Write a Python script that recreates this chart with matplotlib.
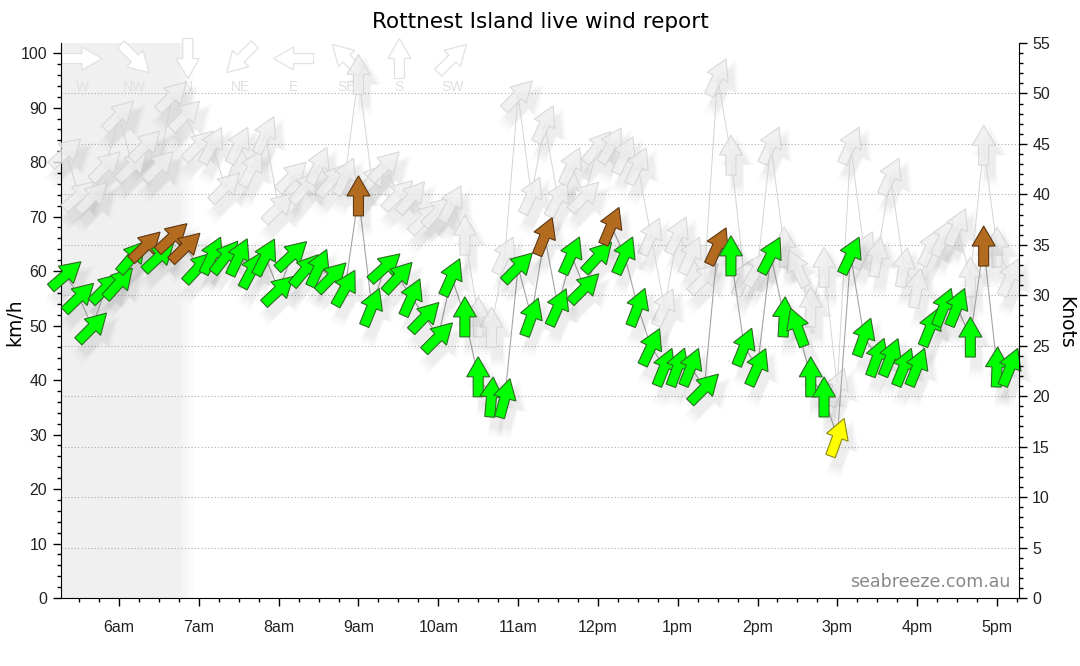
import numpy as np
import matplotlib
matplotlib.use('Agg')
import matplotlib.pyplot as plt
from matplotlib.patches import Polygon
from matplotlib.transforms import Affine2D, ScaledTranslation
from matplotlib.ticker import MultipleLocator, FixedLocator

KMH_PER_KNOT = 1.852

# ---------- data (10 minute readings) ----------
times = ["05:20", "05:30", "05:40", "05:50",
         "06:00", "06:10", "06:20", "06:30", "06:40", "06:50",
         "07:00", "07:10", "07:20", "07:30", "07:40", "07:50",
         "08:00", "08:10", "08:20", "08:30", "08:40", "08:50",
         "09:00", "09:10", "09:20", "09:30", "09:40", "09:50",
         "10:00", "10:10", "10:20", "10:30", "10:40", "10:50",
         "11:00", "11:10", "11:20", "11:30", "11:40", "11:50",
         "12:00", "12:10", "12:20", "12:30", "12:40", "12:50",
         "13:00", "13:10", "13:20", "13:30", "13:40", "13:50",
         "14:00", "14:10", "14:20", "14:30", "14:40", "14:50",
         "15:00", "15:10", "15:20", "15:30", "15:40", "15:50",
         "16:00", "16:10", "16:20", "16:30", "16:40", "16:50",
         "17:00", "17:10"]

# average wind, km/h
avg_kmh = [59.3, 55.2, 49.7, 56.9,
           57.8, 62.6, 64.6, 62.6, 66.2, 64.4,
           60.7, 62.9, 62.6, 62.6, 60.2, 62.6,
           56.5, 62.9, 60.2, 60.6, 58.9, 56.9,
           73.8, 53.4, 60.7, 58.9, 55.2, 51.6,
           47.9, 58.9, 51.6, 40.6, 36.9, 36.7,
           60.7, 51.6, 66.4, 53.4, 62.9, 56.9,
           62.6, 68.3, 62.9, 53.4, 46.1, 42.4,
           42.4, 42.4, 38.5, 64.6, 62.8, 46.1,
           42.4, 62.9, 51.6, 49.7, 40.6, 36.9,
           29.5, 62.9, 47.9, 44.2, 44.2, 42.4,
           42.4, 49.7, 53.4, 53.4, 47.9, 64.6,
           42.4, 42.4]

# direction the arrow points (deg clockwise from north)
avg_dir = [49, 46, 45, 45,
           42, 40, 46, 47, 47, 46,
           43, 25, 38, 25, 28, 27,
           47, 47, 40, 24, 45, 29,
           0, 22, 48, 43, 24, 44,
           45, 24, 0, 0, 5, 15,
           45, 20, 22, 24, 24, 45,
           43, 23, 24, 21, 25, 22,
           20, 22, 45, 25, 0, 22,
           24, 27, 3, -20, 0, 0,
           20, 25, 20, 20, 22, 22,
           22, 22, 22, 22, 0, 0,
           2, 22]

# speed band colour of each average arrow: g green, b brown, y yellow
avg_band = ("gggg" "ggbgbb" "gggggg" "gggggg" "bggggg" "gggggg"
            "ggbggg" "gbgggg" "gggbgg" "gggggg" "yggggg" "gggggb" "gg")

# gusts, km/h
gust_kmh = [81.8, 73.9, 73.6, 79.3,
            88.6, 79.3, 83.1, 79.3, 92.1, 88.6,
            83.1, 83.1, 75.4, 83.1, 78.9, 85.0,
            71.7, 77.4, 75.4, 79.4, 76.7, 77.4,
            96.1, 76.7, 79.3, 74.0, 73.6, 69.7,
            71.0, 72.4, 66.6, 51.6, 49.7, 62.9,
            92.3, 73.9, 87.0, 73.3, 79.3, 73.7,
            82.8, 83.1, 81.3, 79.3, 66.4, 53.4,
            66.6, 62.9, 58.7, 95.6, 81.3, 58.9,
            60.5, 83.1, 64.4, 60.5, 53.4, 60.7,
            38.7, 83.1, 63.9, 62.6, 77.4, 60.7,
            56.9, 64.4, 66.2, 68.1, 58.9, 83.1,
            64.4, 58.9]

gust_dir = [48, 48, 45, 45,
            45, 45, 45, 45, 45, 45,
            45, 28, 45, 27, 28, 25,
            45, 45, 40, 25, 40, 25,
            0, 40, 45, 45, 40, 45,
            45, 28, 0, 0, 0, 25,
            45, 25, 25, 28, 25, 45,
            40, 30, 25, 25, 25, 25,
            25, 25, 45, 25, 0, 25,
            30, 25, 0, -25, 0, 0,
            20, 25, 25, 10, 25, 10,
            10, 25, 25, 25, 0, 0,
            0, 25]

compass_labels = ['W', 'NW', 'N', 'NE', 'E', 'SE', 'S', 'SW']
compass_dir = [90, 135, 180, 225, 270, 315, 0, 45]

hour_ticks = [6, 7, 8, 9, 10, 11, 12, 13, 14, 15, 16, 17]
hour_labels = ['6am', '7am', '8am', '9am', '10am', '11am',
               '12pm', '1pm', '2pm', '3pm', '4pm', '5pm']

night_end = "06:45"

band_colours = {'g': ('#00ff00', '#2b6b22'),
                'b': ('#b36b20', '#5b3712'),
                'y': ('#ffff00', '#8d8a10')}

# arrow outline in pixels, pointing up, centred on the reading
ARROW = np.array([[-5, -20], [-5, 0], [-11.5, 0], [0, 20],
                  [11.5, 0], [5, 0], [5, -20]])


def to_hours(t):
    h, m = t.split(':')
    return int(h) + int(m) / 60


def draw_arrow(ax, x, y, bearing, base, fc, ec, z, lw=0.8, alpha=1.0,
               scale=1.0, off=(0, 0)):
    tr = (Affine2D().rotate_deg(-bearing).scale(scale).translate(*off)
          + ScaledTranslation(x, y, base))
    p = Polygon(ARROW, closed=True, transform=tr, fc=fc, ec=ec, lw=lw,
                alpha=alpha, zorder=z, clip_on=False)
    ax.add_patch(p)


def draw_shadow(ax, x, y, bearing, base, z):
    for s, a in [(1.55, 0.012), (1.4, 0.016), (1.25, 0.02), (1.1, 0.025)]:
        draw_arrow(ax, x, y, bearing, base, 'black', 'none', z, lw=0,
                   alpha=a, scale=s, off=(6, -10))


def main():
    tx = [to_hours(t) for t in times]
    ymax = 55 * KMH_PER_KNOT
    x0, x1 = 5.273, 17.276

    fig = plt.figure(figsize=(10.8, 6.66), dpi=100)
    ax = fig.add_axes([61 / 1080, 1 - 598 / 666, 958 / 1080, 555 / 666])

    # night shading with a soft right edge
    t_night = to_hours(night_end)
    ax.axvspan(x0, t_night, color='#f0f0f0', lw=0, zorder=0)
    steps = 14
    fade = 0.2
    for i in range(steps):
        g = 0.941 + (1 - 0.941) * (i + 0.5) / steps
        ax.axvspan(t_night + fade * i / steps, t_night + fade * (i + 1) / steps,
                   color=(g, g, g), lw=0, zorder=0)

    # knot grid
    for k in range(5, 55, 5):
        ax.axhline(k * KMH_PER_KNOT, color='#aaaaaa', lw=0.8, ls=(0, (1, 2)),
                   zorder=1)

    ax.set_xlim(x0, x1)
    ax.set_ylim(0, ymax)

    # compass legend
    for i, (lab, b) in enumerate(zip(compass_labels, compass_dir)):
        fx = (82 + i * 52.9 - 61) / 958
        draw_arrow(ax, fx, 0.972, b, ax.transAxes, 'white', '#e2e2e2', 1.5,
                   lw=0.9)
        ax.text(fx, 0.92, lab, transform=ax.transAxes, ha='center',
                va='center', color='#e0e0e0', fontsize=10,
                family='Liberation Sans', zorder=1.5)

    # gusts
    ax.plot(tx, gust_kmh, color='#d4d4d4', lw=0.7, zorder=2.5)
    for x, y, b in zip(tx, gust_kmh, gust_dir):
        draw_shadow(ax, x, y, b, ax.transData, 2)
        draw_arrow(ax, x, y, b, ax.transData, '#eeeeee', '#d2d2d2', 3,
                   lw=0.8, alpha=0.8)

    # average
    ax.plot(tx, avg_kmh, color='#a5a5a5', lw=0.8, zorder=3.5)
    for x, y, b in zip(tx, avg_kmh, avg_dir):
        draw_shadow(ax, x, y, b, ax.transData, 3.6)
    for x, y, b, c in zip(tx, avg_kmh, avg_dir, avg_band):
        fc, ec = band_colours[c]
        draw_arrow(ax, x, y, b, ax.transData, fc, ec, 4, lw=0.8)

    # axes styling
    ax.xaxis.set_major_locator(FixedLocator(hour_ticks))
    ax.set_xticklabels(hour_labels)
    ax.xaxis.set_minor_locator(MultipleLocator(0.25))
    ax.yaxis.set_major_locator(MultipleLocator(10))
    ax.yaxis.set_minor_locator(MultipleLocator(2))
    ax.tick_params(which='major', length=6, width=1, labelsize=11.5,
                   labelcolor='#222222', pad=4)
    ax.tick_params(which='minor', length=3, width=1)
    ax.tick_params(axis='x', pad=10)
    for lab in ax.get_xticklabels() + ax.get_yticklabels():
        lab.set_family('Liberation Sans')
    ax.spines['top'].set_visible(False)
    ax.spines['right'].set_visible(False)

    ax2 = ax.twinx()
    ax2.set_ylim(0, 55)
    ax2.yaxis.set_major_locator(MultipleLocator(5))
    ax2.yaxis.set_minor_locator(MultipleLocator(1))
    ax2.tick_params(which='major', length=6, width=1, labelsize=11.5,
                    labelcolor='#222222')
    ax2.tick_params(which='minor', length=3, width=1)
    for lab in ax2.get_yticklabels():
        lab.set_family('Liberation Sans')
    ax2.spines['top'].set_visible(False)
    ax2.spines['left'].set_visible(False)
    ax2.spines['bottom'].set_visible(False)
    ax2.patch.set_visible(False)

    fig.text(0.5, 1 - 22 / 666, 'Rottnest Island live wind report',
             ha='center', va='center', fontsize=15.5, family='DejaVu Sans')
    fig.text(15 / 1080, 1 - 322 / 666, 'km/h', rotation=90, ha='center',
             va='center', fontsize=13.5, family='DejaVu Sans')
    fig.text(1066 / 1080, 1 - 322 / 666, 'Knots', rotation=270, ha='center',
             va='center', fontsize=13.5, family='DejaVu Sans')
    ax.text(0.991, 0.028, 'seabreeze.com.au', transform=ax.transAxes,
            ha='right', va='center', color='#888888', fontsize=12.5,
            family='DejaVu Sans', zorder=5)

    fig.savefig('out.png', dpi=100)


if __name__ == '__main__':
    main()
